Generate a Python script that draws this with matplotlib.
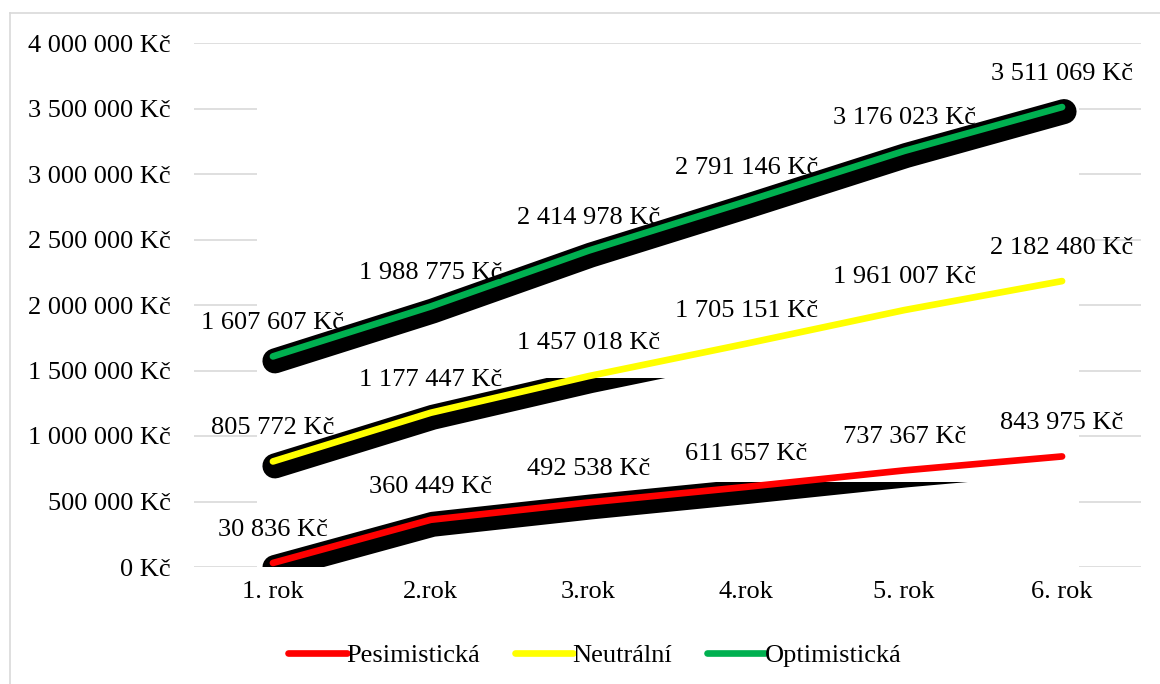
import numpy as np
import matplotlib
matplotlib.use('Agg')
import matplotlib.pyplot as plt
from matplotlib.patches import Rectangle
from matplotlib.lines import Line2D
import matplotlib.transforms as mtransforms

#===| data |=========================================================
years = ['1. rok', '2.rok', '3.rok', '4.rok', '5. rok', '6. rok']
pesimisticka = [30836, 360449, 492538, 611657, 737367, 843975]
neutralni = [805772, 1177447, 1457018, 1705151, 1961007, 2182480]
optimisticka = [1607607, 1988775, 2414978, 2791146, 3176023, 3511069]

series_names = ['Pesimistická', 'Neutrální', 'Optimistická']
series_values = [pesimisticka, neutralni, optimisticka]
series_colors = ['#ff0000', '#ffff00', '#00b050']
# top of the area where the (odd) shadow is still drawn, None = whole shadow
shadow_tops = [649000, 1443000, None]

yticks = np.arange(0, 4000001, 500000)

#===| plot |=========================================================
plt.rcParams['font.family'] = ['Liberation Serif', 'DejaVu Serif']
plt.rcParams['font.size'] = 19

fig = plt.figure(figsize=(11.6, 6.84), dpi=100)
ax = fig.add_axes([194/1160, 1-567/684, (1141-194)/1160, (567-43)/684])

x = np.arange(len(years))

# white block that hides the gridlines behind the plotted lines
ax.add_patch(Rectangle((x[0]-0.1, 0), x[-1]-x[0]+0.21, 3750000,
                       facecolor='white', edgecolor='none', zorder=1))

shadow_tr = mtransforms.offset_copy(ax.transData, fig=fig, x=2, y=-4.5, units='dots')

for vals, col, top in zip(series_values, series_colors, shadow_tops):
    sh, = ax.plot(x, vals, color='black', lw=18, solid_capstyle='round',
                  solid_joinstyle='round', transform=shadow_tr, zorder=2)
    if top is not None:
        clip = Rectangle((-1, 0), 8, top, transform=ax.transData)
        sh.set_clip_path(clip)
    ax.plot(x, vals, color=col, lw=4.8, solid_capstyle='round',
            solid_joinstyle='round', zorder=3)
    for xi, v in zip(x, vals):
        ax.annotate('%s Kč' % format(v, ',').replace(',', ' '), (xi, v),
                    xytext=(0, 33), textcoords='offset pixels',
                    ha='center', va='center', zorder=4)

ax.set_xlim(-0.5, len(years)-0.5)
ax.set_ylim(0, 4000000)
ax.set_xticks(x)
ax.set_xticklabels(years)
ax.set_yticks(yticks)
ax.set_yticklabels(['%s Kč' % format(int(v), ',').replace(',', ' ') for v in yticks])
ax.tick_params(axis='both', length=0)
ax.tick_params(axis='y', pad=17)
ax.tick_params(axis='x', pad=10)
ax.grid(axis='y', color='#d9d9d9', lw=1.2)
ax.set_axisbelow(True)
for s in ax.spines.values():
    s.set_visible(False)

handles = [Line2D([], [], color=c, lw=4.8, solid_capstyle='round') for c in series_colors]
fig.legend(handles, series_names, loc='center', bbox_to_anchor=(595/1160, 1-655/684),
           ncol=3, frameon=False, handlelength=2.2, handletextpad=0.0,
           columnspacing=1.3)

# chart border
fig.add_artist(Line2D([9.5/1160, 9.5/1160], [0, 1-13/684], color='#d9d9d9', lw=1.2))
fig.add_artist(Line2D([9.5/1160, 1], [1-13/684, 1-13/684], color='#d9d9d9', lw=1.2))

fig.savefig('out.png', dpi=100)
